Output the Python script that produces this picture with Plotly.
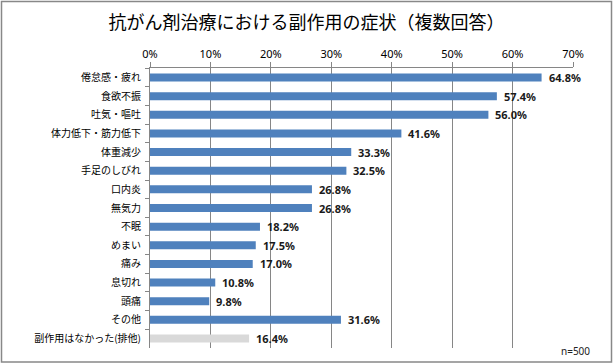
import plotly.graph_objects as go

categories = ["倦怠感・疲れ", "食欲不振", "吐気・嘔吐", "体力低下・筋力低下", "体重減少", "手足のしびれ",
              "口内炎", "無気力", "不眠", "めまい", "痛み", "息切れ", "頭痛", "その他", "副作用はなかった(排他)"]
values = [64.8, 57.4, 56.0, 41.6, 33.3, 32.5, 26.8, 26.8, 18.2, 17.5, 17.0, 10.8, 9.8, 31.6, 16.4]
colors = ["#4F81BD"] * 14 + ["#D9D9D9"]
tick_vals = [0, 10, 20, 30, 40, 50, 60, 70]
tick_text = ["0%", "10%", "20%", "30%", "40%", "50%", "60%", "70%"]

FONT = "Noto Sans CJK JP, Noto Sans, sans-serif"
W, H = 613, 364
L, R, T, B = 150, 40, 68, 16
pw, ph = W - L - R, H - T - B

fig = go.Figure()
fig.add_trace(go.Bar(
    x=values, y=categories, orientation="h",
    marker=dict(color=colors, line=dict(width=0)),
    width=0.43, hoverinfo="skip",
))

for c, v in zip(categories, values):
    fig.add_annotation(x=v, y=c, xref="x", yref="y", text=f"<b>{v:.1f}%</b>",
                       showarrow=False, xanchor="left", xshift=5,
                       font=dict(family="Noto Sans, sans-serif", size=11, color="#1a1a1a"))

fig.add_annotation(x=(592 - L) / pw, y=(H - B - 351) / ph, xref="paper", yref="paper",
                   text="n=500", showarrow=False, xanchor="right", yanchor="middle",
                   font=dict(family="Noto Sans, sans-serif", size=10, color="#222"))

# outer border
fig.add_shape(type="rect", xref="paper", yref="paper",
              x0=(1.5 - L) / pw, x1=(611.5 - L) / pw,
              y0=(H - B - 362) / ph, y1=(H - B - 1.5) / ph,
              line=dict(color="#888888", width=1.5), fillcolor="rgba(0,0,0,0)", layer="below")

fig.update_layout(
    width=W, height=H,
    margin=dict(l=L, r=R, t=T, b=B),
    paper_bgcolor="white", plot_bgcolor="white",
    showlegend=False,
    title=dict(text="抗がん剤治療における副作用の症状（複数回答）", x=0.5, xanchor="center",
               y=1 - 23 / H, yanchor="middle",
               font=dict(family=FONT, size=18, color="#000")),
    xaxis=dict(range=[0, 70], side="top", tickvals=tick_vals, ticktext=tick_text,
               showgrid=True, gridcolor="#868686", gridwidth=1,
               showline=True, linecolor="#868686", linewidth=1,
               ticks="outside", ticklen=5, tickcolor="#868686",
               tickfont=dict(family="Noto Sans, sans-serif", size=11, color="#000"),
               zeroline=False, fixedrange=True),
    yaxis=dict(categoryorder="array", categoryarray=categories, autorange="reversed",
               showline=True, linecolor="#868686", linewidth=1,
               ticks="outside", ticklen=4, tickcolor="#868686", tickson="boundaries",
               tickfont=dict(family=FONT, size=10, color="#000"), ticklabelstandoff=6, fixedrange=True),
)

fig.write_html("out.html", config={"displayModeBar": False},
               post_script="document.body.style.margin='0';")
